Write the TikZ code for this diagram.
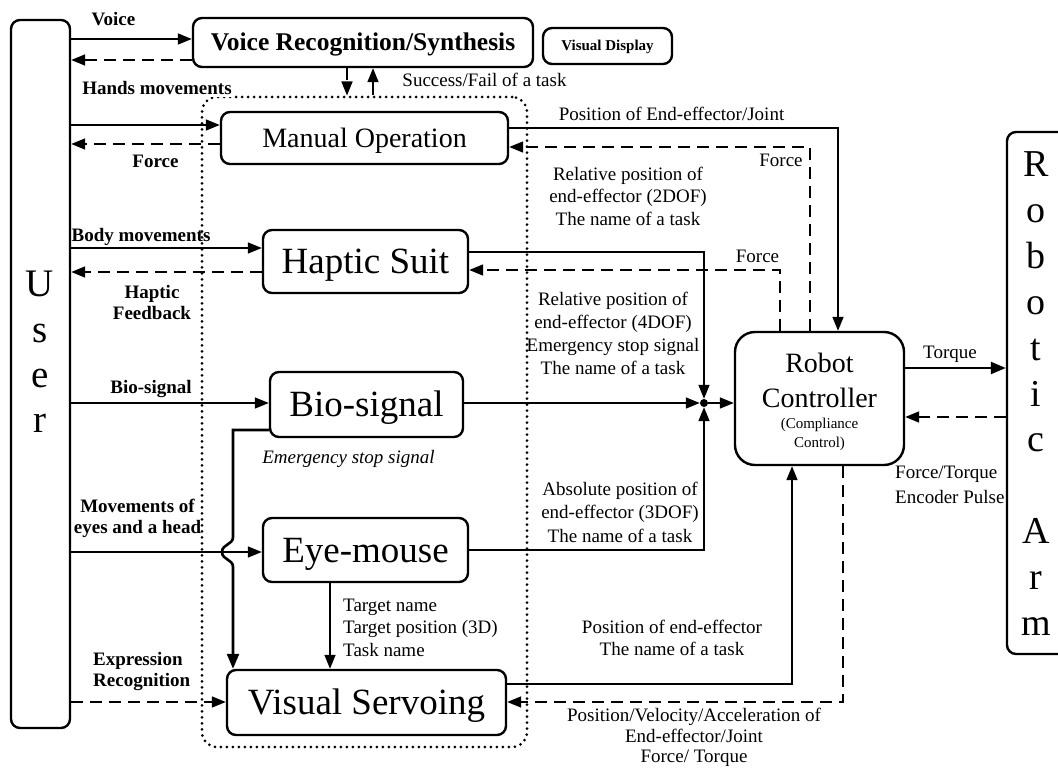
\documentclass[tikz,border=0pt]{standalone}
\usepackage{fontspec}
\setmainfont{Liberation Serif}
\usetikzlibrary{arrows.meta}
\begin{document}
\begin{tikzpicture}[x=1pt,y=-1pt,
  box/.style={draw, line width=2.4pt, rounded corners=9pt, inner sep=0pt},
  big/.style={font=\fontsize{37}{40}\selectfont, text height=24.5pt, text depth=0pt},
  conn/.style={line width=1.6pt},
  arr/.style={conn, -{Triangle[length=14pt,width=11pt]}},
  darr/.style={arr, dash pattern=on 12pt off 7pt},
  lbl/.style={inner sep=0pt, font=\fontsize{19}{22.5}\selectfont},
  blbl/.style={inner sep=0pt, font=\fontsize{19}{21}\selectfont\bfseries},
  letter/.style={inner sep=0pt, anchor=base, font=\fontsize{39}{45}\selectfont},
]
\useasboundingbox (0,0) rectangle (1058,770);

% dotted frame around the input devices
\node[draw, line width=3pt, dash pattern=on 0pt off 6pt, line cap=round,
      rounded corners=15pt, minimum width=325pt, minimum height=650pt, inner sep=0pt]
      (grp) at (364.5,422) {};

% user and robotic arm
\node[box, minimum width=59pt, minimum height=708pt] (user) at (40.5,374) {};
\foreach \c [count=\i] in {U,s,e,r}
  \node[letter] (us\i) at (40,{297+45*(\i-1)}) {\c};
\node[box, minimum width=68pt, minimum height=522pt] (arm) at (1041,393) {};
\foreach \c/\k in {R/0,o/1,b/2,o/3,t/4,i/5,c/6,A/8,r/9,m/10}
  \node[letter, font=\fontsize{38}{45}\selectfont] (ar\k) at (1036,{177+45.8*\k}) {\c};

% modules
\node[box, minimum width=340pt, minimum height=49pt, font=\fontsize{25.5}{28}\selectfont\bfseries,
      text height=17pt, text depth=0pt] (vr) at (363,42.5) {Voice Recognition/Synthesis};
\node[box, minimum width=129pt, minimum height=36pt, font=\fontsize{15}{17}\selectfont\bfseries,
      text height=10pt, text depth=0pt] (vd) at (607.5,46) {Visual Display};
\node[box, minimum width=287pt, minimum height=52pt, font=\fontsize{28}{30}\selectfont,
      text height=18.5pt, text depth=0pt] (mo) at (364.5,138) {Manual Operation};
\node[box, big, minimum width=205pt, minimum height=63pt] (hs) at (365.5,261.5) {Haptic Suit};
\node[box, big, minimum width=193pt, minimum height=65pt] (bs) at (366.5,404.5) {Bio-signal};
\node[box, big, minimum width=205pt, minimum height=64pt] (em) at (365.5,550) {Eye-mouse};
\node[box, big, minimum width=279pt, minimum height=65pt] (vs) at (366.5,702.5) {Visual Servoing};

% robot controller
\node[box, rounded corners=20pt, minimum width=169pt, minimum height=133pt] (rc) at (819.5,398.5) {};
\node[inner sep=0pt, anchor=base, font=\fontsize{28}{30}\selectfont] (rct1) at (819.5,372) {Robot};
\node[inner sep=0pt, anchor=base, font=\fontsize{28}{30}\selectfont] (rct2) at (819.5,407) {Controller};
\node[inner sep=0pt, anchor=base, font=\fontsize{15}{17}\selectfont] (rct3) at (819.5,428) {(Compliance};
\node[inner sep=0pt, anchor=base, font=\fontsize{15}{17}\selectfont] (rct4) at (819.5,447) {Control)};

% junction
\node[circle, fill, inner sep=0pt, minimum size=8pt] (jn) at (704,403) {};

% row and column helpers
\coordinate (yv1) at (0,39);
\coordinate (yv2) at (0,60);
\coordinate (ym1) at (0,125);
\coordinate (ym2) at (0,144);
\coordinate (yh1) at (0,248);
\coordinate (yh2) at (0,272);
\coordinate (yb) at (0,403);
\coordinate (ye) at (0,552);
\coordinate (yx) at (0,702);
\coordinate (xd) at (347,0);
\coordinate (xu) at (373,0);
\coordinate (xt) at (330,0);

% user <-> modules
\draw[arr]  (user.east |- yv1) -- (vr.west |- yv1);
\draw[darr] (vr.west |- yv2) -- (user.east |- yv2);
\draw[arr]  (user.east |- ym1) -- (mo.west |- ym1);
\draw[darr] (mo.west |- ym2) -- (user.east |- ym2);
\draw[arr]  (user.east |- yh1) -- (hs.west |- yh1);
\draw[darr] (hs.west |- yh2) -- (user.east |- yh2);
\draw[arr]  (user.east |- yb) -- (bs.west |- yb);
\draw[arr]  (user.east |- ye) -- (em.west |- ye);
\draw[darr] (user.east |- yx) -- (vs.west |- yx);

% voice module <-> frame
\draw[darr] (vr.south -| xd) -- (grp.north -| xd);
\draw[arr]  (grp.north -| xu) -- (vr.south -| xu);

% emergency stop line from bio-signal to visual servoing, jumping over the eye-mouse input
\coordinate (e1) at (233,430);
\coordinate (b1) at (233,537);
\coordinate (b2) at (233,567);
\draw[line width=2.6pt, -{Triangle[length=15pt,width=12pt]}]
  (bs.west |- e1) -- (e1) -- (b1)
  .. controls (233,545) and (222,544) .. (222,552)
  .. controls (222,560) and (233,559) .. (b2) -- (vs.north -| b2);

% eye-mouse to visual servoing
\draw[arr] (em.south -| xt) -- (vs.north -| xt);

% modules into the junction
\coordinate (hj) at (0,252);
\draw[arr] (hs.east |- hj) -| (jn.north);
\draw[arr] (bs.east |- jn) -- (jn.west);
\draw[arr] (em.east) -| (jn.south);
\draw[arr] (jn.east) -- (rc.west |- jn);

% controller <-> modules
\coordinate (xp) at (838,128);
\draw[arr] (mo.east |- xp) -- (xp) -- (rc.north -| xp);
\coordinate (f1) at (810,147);
\draw[darr] (rc.north -| f1) -- (f1) -- (mo.east |- f1);
\coordinate (f2) at (780,270);
\draw[darr] (rc.north -| f2) -- (f2) -- (hs.east |- f2);
\coordinate (p1) at (792,684);
\draw[arr] (vs.east |- p1) -- (p1) -- (rc.south -| p1);
\coordinate (p2) at (843,702);
\draw[darr] (rc.south -| p2) -- (p2) -- (vs.east |- p2);

% controller <-> arm
\coordinate (tq) at (0,368);
\draw[line width=2.4pt, -{Triangle[length=15pt,width=12pt]}] (rc.east |- tq) -- (arm.west |- tq);
\coordinate (fb) at (0,417);
\draw[darr] (arm.west |- fb) -- (rc.east |- fb);

% labels
\node[blbl, anchor=base] (lvoice) at (113.5,26) {Voice};
\node[lbl, anchor=base] (lsucc) at (484.5,87) {Success/Fail of a task};
\node[blbl, anchor=base, fill=white, inner sep=1.5pt] (lhands) at (157,95) {Hands movements};
\node[blbl, anchor=base] (lforce1) at (155.5,168) {Force};
\node[lbl, anchor=base] (lpos) at (671.5,121) {Position of End-effector/Joint};
\node[lbl, anchor=base] (lforce2) at (781,167) {Force};
\node[lbl, align=center] (lrel2) at (628,196) {Relative position of\\end-effector (2DOF)\\The name of a task};
\node[blbl, anchor=base] (lbody) at (141,242) {Body movements};
\node[lbl, anchor=base] (lforce3) at (757.5,263) {Force};
\node[blbl, align=center] (lhf) at (152,302.5) {Haptic\\Feedback};
\node[lbl, align=center, font=\fontsize{19}{23}\selectfont] (lrel4) at (613,333)
  {Relative position of\\end-effector (4DOF)\\Emergency stop signal\\The name of a task};
\node[blbl, anchor=base] (lbio) at (151,393) {Bio-signal};
\node[lbl, anchor=base, font=\fontsize{19}{22.5}\selectfont\itshape] (lemg) at (348.5,463) {Emergency stop signal};
\node[lbl, align=center, font=\fontsize{19}{23.5}\selectfont] (labs) at (620,512)
  {Absolute position of\\end-effector (3DOF)\\The name of a task};
\node[blbl, align=center] (lmov) at (137.5,518) {Movements of\\eyes and a head};
\node[lbl, align=left, anchor=west] (ltgt) at (343,627.5) {Target name\\Target position (3D)\\Task name};
\node[lbl, align=center] (lpe) at (672,638) {Position of end-effector\\The name of a task};
\node[blbl, align=left, anchor=west] (lexp) at (93,671.5) {Expression\\Recognition};
\node[lbl, align=center, font=\fontsize{19}{20.5}\selectfont] (lpva) at (694,737.5)
  {Position/Velocity/Acceleration of\\End-effector/Joint\\Force/ Torque};
\node[lbl, anchor=base] (ltq) at (950,358) {Torque};
\node[lbl, align=left, anchor=west, font=\fontsize{19}{25}\selectfont] (lft) at (895,484.5)
  {Force/Torque\\Encoder Pulse};
\end{tikzpicture}
\end{document}
